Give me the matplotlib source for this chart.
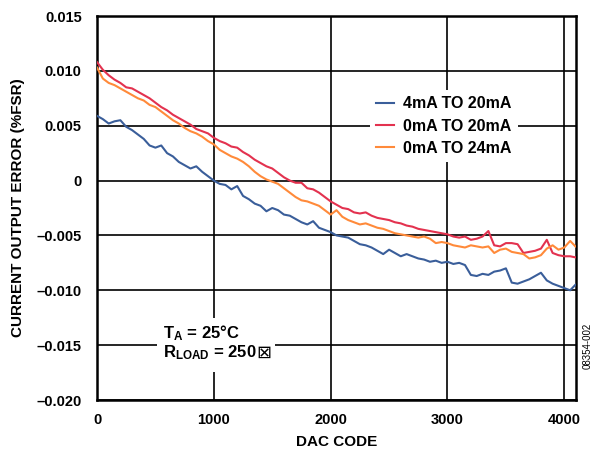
import matplotlib
matplotlib.use('Agg')
import matplotlib.pyplot as plt
from matplotlib.patches import Rectangle

plt.rcParams['font.family'] = ['Liberation Sans', 'DejaVu Sans']
plt.rcParams['mathtext.fontset'] = 'custom'
plt.rcParams['mathtext.rm'] = 'Liberation Sans'
plt.rcParams['mathtext.bf'] = 'Liberation Sans:bold'
plt.rcParams['mathtext.it'] = 'Liberation Sans:italic'

# ---------------- data ----------------
dac_code = list(range(0, 4051, 50)) + [4095]

err_4_20 = [
    0.0059, 0.0056, 0.0052, 0.0054, 0.0055, 0.0049, 0.0046, 0.0042, 0.0038, 0.0032,
    0.0030, 0.0032, 0.0025, 0.0022, 0.0017, 0.0014, 0.0011, 0.0013, 0.0008, 0.0004,
    0.0000, -0.0003, -0.0004, -0.0008, -0.0005, -0.0014, -0.0017, -0.0021, -0.0023, -0.0028,
    -0.0025, -0.0027, -0.0031, -0.0032, -0.0035, -0.0038, -0.0040, -0.0037, -0.0043, -0.0045,
    -0.0047, -0.0050, -0.0051, -0.0052, -0.0055, -0.0058, -0.0059, -0.0061, -0.0064, -0.0067,
    -0.0063, -0.0066, -0.0069, -0.0067, -0.0069, -0.0071, -0.0072, -0.0074, -0.0073, -0.0075,
    -0.0074, -0.0076, -0.0075, -0.0077, -0.0086, -0.0087, -0.0085, -0.0086, -0.0083, -0.0082,
    -0.0080, -0.0093, -0.0094, -0.0092, -0.0090, -0.0087, -0.0084, -0.0091, -0.0094, -0.0096,
    -0.0098, -0.0100, -0.0095,
]

err_0_20 = [
    0.0108, 0.0101, 0.0096, 0.0092, 0.0089, 0.0085, 0.0084, 0.0081, 0.0078, 0.0075,
    0.0071, 0.0067, 0.0064, 0.0060, 0.0057, 0.0054, 0.0051, 0.0047, 0.0045, 0.0043,
    0.0039, 0.0036, 0.0034, 0.0031, 0.0030, 0.0026, 0.0023, 0.0019, 0.0016, 0.0013,
    0.0011, 0.0007, 0.0003, 0.0000, -0.0002, -0.0002, -0.0007, -0.0008, -0.0011, -0.0015,
    -0.0019, -0.0022, -0.0025, -0.0026, -0.0029, -0.0030, -0.0029, -0.0032, -0.0034, -0.0035,
    -0.0036, -0.0038, -0.0039, -0.0041, -0.0042, -0.0044, -0.0045, -0.0046, -0.0047, -0.0048,
    -0.0049, -0.0051, -0.0052, -0.0051, -0.0054, -0.0053, -0.0051, -0.0046, -0.0059, -0.0060,
    -0.0057, -0.0057, -0.0058, -0.0066, -0.0065, -0.0064, -0.0062, -0.0054, -0.0066, -0.0068,
    -0.0069, -0.0069, -0.0070,
]

err_0_24 = [
    0.0103, 0.0093, 0.0089, 0.0087, 0.0084, 0.0081, 0.0078, 0.0075, 0.0073, 0.0069,
    0.0067, 0.0063, 0.0059, 0.0055, 0.0052, 0.0048, 0.0045, 0.0043, 0.0040, 0.0036,
    0.0033, 0.0028, 0.0025, 0.0022, 0.0020, 0.0017, 0.0013, 0.0008, 0.0004, 0.0001,
    -0.0001, -0.0003, -0.0007, -0.0011, -0.0015, -0.0018, -0.0019, -0.0021, -0.0023, -0.0027,
    -0.0031, -0.0027, -0.0033, -0.0036, -0.0038, -0.0040, -0.0039, -0.0041, -0.0043, -0.0044,
    -0.0046, -0.0048, -0.0049, -0.0050, -0.0051, -0.0052, -0.0051, -0.0053, -0.0057, -0.0056,
    -0.0057, -0.0059, -0.0060, -0.0061, -0.0059, -0.0060, -0.0061, -0.0060, -0.0066, -0.0063,
    -0.0062, -0.0065, -0.0066, -0.0067, -0.0071, -0.0070, -0.0068, -0.0062, -0.0059, -0.0063,
    -0.0061, -0.0055, -0.0060,
]

series_labels = ['4mA TO 20mA', '0mA TO 20mA', '0mA TO 24mA']
series_colors = ['#3A5E9A', '#E3324F', '#FF8A3A']

x_ticks = [0, 1000, 2000, 3000, 4000]
x_tick_labels = ['0', '1000', '2000', '3000', '4000']
y_ticks = [0.015, 0.010, 0.005, 0.0, -0.005, -0.010, -0.015, -0.020]
y_tick_labels = ['0.015', '0.010', '0.005', '0', '–0.005', '–0.010', '–0.015', '–0.020']

# ---------------- figure ----------------
fig = plt.figure(figsize=(5.94, 4.49), dpi=100)
ax = fig.add_axes([97 / 594, 49 / 449, 479 / 594, 384 / 449])

for ys, lab, col in zip([err_4_20, err_0_20, err_0_24], series_labels, series_colors):
    ax.plot(dac_code, ys, color=col, lw=1.5, label=lab, zorder=3)

ax.set_xlim(0, 4100)
ax.set_ylim(-0.020, 0.015)
ax.set_xticks(x_ticks)
ax.set_xticklabels(x_tick_labels)
ax.set_yticks(y_ticks)
ax.set_yticklabels(y_tick_labels)
ax.tick_params(axis='both', length=0, labelsize=10.5)
ax.tick_params(axis='y', pad=11)
ax.tick_params(axis='x', pad=9)
for lbl in ax.get_xticklabels() + ax.get_yticklabels():
    lbl.set_fontweight('bold')

ax.grid(True, color='black', lw=1.2, zorder=1)
ax.set_axisbelow(True)
for sp in ax.spines.values():
    sp.set_linewidth(1.8)
    sp.set_color('black')

ax.set_xlabel('DAC CODE', fontsize=11, fontweight='bold', labelpad=6)
ax.set_ylabel('CURRENT OUTPUT ERROR (%FSR)', fontsize=11, fontweight='bold', labelpad=8)

leg = ax.legend(loc='upper left', bbox_to_anchor=(0.553, 0.828), frameon=True,
                fontsize=11.5, handlelength=1.1, handletextpad=0.6,
                labelspacing=0.45, borderpad=0.4, fancybox=False)
leg.get_frame().set_facecolor('white')
leg.get_frame().set_edgecolor('none')
leg.get_frame().set_alpha(1)
for t in leg.get_texts():
    t.set_fontweight('bold')

# white patch behind annotation
ax.add_patch(Rectangle((514, -0.01745), 1011, 0.00493, facecolor='white',
                       edgecolor='none', zorder=2))
ax.text(565, -0.01435, r'$\mathbf{T_A}$' + ' = 25°C', fontsize=12, fontweight='bold',
        va='baseline', ha='left', zorder=4)
t2 = ax.text(565, -0.01608, r'$\mathbf{R_{LOAD}}$' + ' = 250', fontsize=12, fontweight='bold',
             va='baseline', ha='left', zorder=4)
ax.annotate('⊠', xy=(1, 0), xycoords=t2, xytext=(0, 0), textcoords='offset points',
            fontsize=13, fontweight='normal', family=['DejaVu Sans'],
            va='bottom', ha='left', zorder=4)

fig.text(588 / 594, 1 - 346 / 449, '08354-002', rotation=90, fontsize=7,
         ha='center', va='center')

fig.savefig('out.png', dpi=100)
